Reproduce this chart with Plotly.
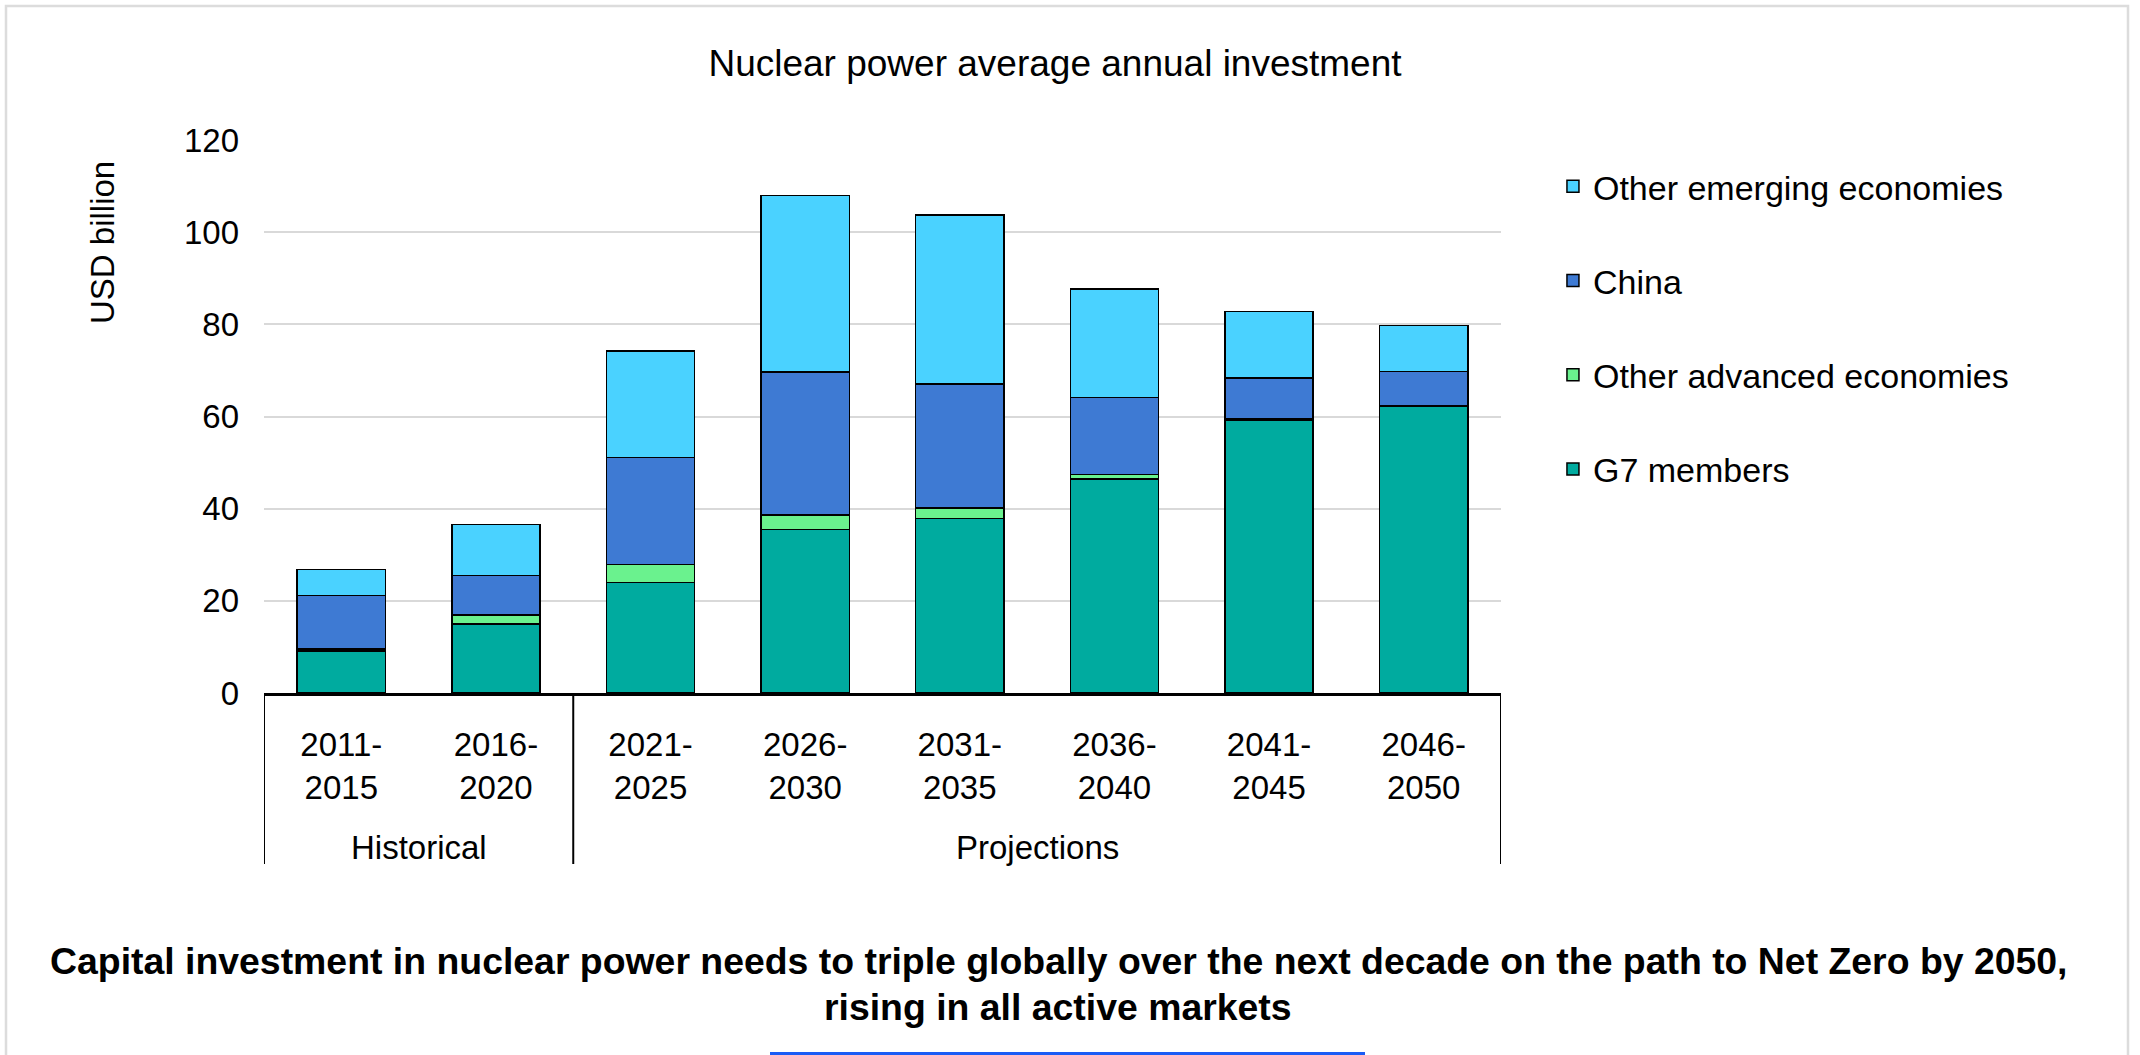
import plotly.graph_objects as go

# Periods on the x axis and the group each one belongs to
periods = ["2011-<br>2015", "2016-<br>2020", "2021-<br>2025", "2026-<br>2030",
           "2031-<br>2035", "2036-<br>2040", "2041-<br>2045", "2046-<br>2050"]
group_names = ["Historical", "Projections"]
group_sizes = [2, 6]

# Average annual investment, USD billion
g7_members = [9.1, 15.0, 24.0, 35.5, 37.9, 46.4, 59.1, 62.3]
other_advanced = [0.4, 1.9, 3.9, 3.1, 2.2, 1.0, 0.4, 0.1]
china = [11.7, 8.6, 23.2, 31.1, 27.0, 16.7, 8.9, 7.4]
other_emerging = [5.6, 11.1, 23.1, 38.3, 36.6, 23.6, 14.4, 9.9]

y_ticks = [0, 20, 40, 60, 80, 100, 120]

series = [
    ("G7 members", g7_members, "#00AB9F"),
    ("Other advanced economies", other_advanced, "#6AF28E"),
    ("China", china, "#3E7AD3"),
    ("Other emerging economies", other_emerging, "#4AD2FF"),
]

FONT = "Liberation Sans, Arial, sans-serif"

fig = go.Figure()
for rank, (name, vals, color) in enumerate(series):
    fig.add_trace(go.Bar(
        x=periods,
        y=vals,
        name=name,
        legendgroup=name,
        legendrank=len(series) - rank,
        marker=dict(color=color, line=dict(color="black", width=1.5)),
    ))

fig.update_layout(
    width=2140,
    height=1055,
    barmode="stack",
    bargap=0.43,
    plot_bgcolor="white",
    paper_bgcolor="white",
    font=dict(family=FONT, size=33, color="black"),
    margin=dict(l=264, r=639, t=140, b=362),
    title=dict(
        text="Nuclear power average annual investment",
        x=1055 / 2140, xref="container", xanchor="center",
        y=1 - 63 / 1055, yref="container", yanchor="middle",
        font=dict(family=FONT, size=37, color="black"),
    ),
    legend=dict(
        x=1.042, xanchor="left",
        y=0.968, yanchor="top",
        traceorder="grouped",
        tracegroupgap=47,
        font=dict(family=FONT, size=34, color="black"),
        bgcolor="rgba(0,0,0,0)",
    ),
    showlegend=True,
)

fig.update_yaxes(
    range=[0, 120],
    tickvals=y_ticks,
    showgrid=True,
    gridcolor="#D9D9D9",
    gridwidth=2,
    zeroline=False,
    showline=False,
    ticks="",
    ticklabelstandoff=24,
    tickfont=dict(family=FONT, size=33, color="black"),
)

fig.update_xaxes(
    type="category",
    range=[-0.5, len(periods) - 0.5],
    showline=True,
    linecolor="black",
    linewidth=3,
    ticks="",
    ticklabelstandoff=20,
    tickfont=dict(family=FONT, size=33, color="black"),
)

# Group dividers and group labels beneath the period labels
divider_bottom = (693 - 864) / 553
start = -0.5
edges = [start]
for name, size in zip(group_names, group_sizes):
    end = start + size
    fig.add_annotation(
        text=name, xref="x", yref="paper",
        x=(start + end) / 2, y=(693 - 847) / 553,
        xanchor="center", yanchor="middle", showarrow=False,
        font=dict(family=FONT, size=33, color="black"),
    )
    edges.append(end)
    start = end
for e in edges:
    fig.add_shape(
        type="line", xref="x", yref="paper",
        x0=e, x1=e, y0=0, y1=divider_bottom,
        line=dict(color="black", width=2),
    )

# Rotated axis title placed toward the top of the value axis
fig.add_annotation(
    text="USD billion", textangle=-90,
    xref="paper", yref="paper",
    x=(102 - 264) / 1237, y=(693 - 243) / 553,
    xanchor="center", yanchor="middle",
    showarrow=False,
    font=dict(family=FONT, size=33, color="black"),
)

# Caption under the chart
fig.add_annotation(
    text="<b>Capital investment in nuclear power needs to triple globally over the next decade on the path to Net Zero by 2050,</b>",
    xref="paper", yref="paper",
    x=(1058 - 264) / 1237, y=(693 - 961) / 553,
    xanchor="center", yanchor="middle",
    showarrow=False,
    font=dict(family=FONT, size=37.4, color="black"),
)
fig.add_annotation(
    text="<b>rising in all active markets</b>",
    xref="paper", yref="paper",
    x=(1058 - 264) / 1237, y=(693 - 1007) / 553,
    xanchor="center", yanchor="middle",
    showarrow=False,
    font=dict(family=FONT, size=37.4, color="black"),
)

# Frame around the whole figure and the accent rule at the bottom
fig.add_shape(
    type="rect", xref="paper", yref="paper",
    x0=(6 - 264) / 1237, x1=(2128 - 264) / 1237,
    y0=(693 - 1070) / 553, y1=(693 - 6) / 553,
    line=dict(color="#DCDCDC", width=2.5), layer="below",
)
fig.add_shape(
    type="line", xref="paper", yref="paper",
    x0=(770 - 264) / 1237, x1=(1365 - 264) / 1237,
    y0=(693 - 1053.5) / 553, y1=(693 - 1053.5) / 553,
    line=dict(color="#1A5CF5", width=3),
)

fig.write_html("out.html")
